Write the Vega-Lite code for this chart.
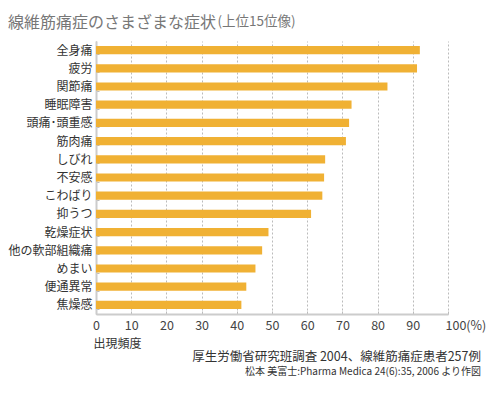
{
  "$schema": "https://vega.github.io/schema/vega-lite/v6.json",
  "background": "white",
  "padding": {"left": 7, "top": 14, "right": 5, "bottom": 5},
  "config": {"view": {"stroke": null}, "font": "Noto Sans CJK JP"},
  "title": {"text": "線維筋痛症のさまざまな症状", "anchor": "start", "frame": "bounds", "font": "Noto Sans CJK JP", "fontSize": 16, "fontWeight": "normal", "color": "#777777", "offset": -17},
  "vconcat": [
    {
      "width": 352,
      "height": 273,
      "title": {
        "text": "厚生労働省研究班調査 2004、線維筋痛症患者257例",
        "subtitle": "松本 美富士:Pharma Medica 24(6):35, 2006 より作図",
        "orient": "bottom",
        "anchor": "end",
        "frame": "group",
        "dx": 33,
        "font": "Noto Sans CJK JP",
        "fontSize": 12.5,
        "fontWeight": "normal",
        "color": "#333333",
        "subtitleFont": "Noto Sans CJK JP",
        "subtitleFontSize": 10,
        "subtitleColor": "#333333",
        "subtitlePadding": 4,
        "offset": 1
      },
      "data": {"values": [
        {"symptom": "全身痛", "pct": 92.0},
        {"symptom": "疲労", "pct": 91.2},
        {"symptom": "関節痛", "pct": 82.8},
        {"symptom": "睡眠障害", "pct": 72.6},
        {"symptom": "頭痛･頭重感", "pct": 71.9},
        {"symptom": "筋肉痛", "pct": 71.0},
        {"symptom": "しびれ", "pct": 65.1},
        {"symptom": "不安感", "pct": 64.8},
        {"symptom": "こわばり", "pct": 64.3},
        {"symptom": "抑うつ", "pct": 61.1},
        {"symptom": "乾燥症状", "pct": 49.0},
        {"symptom": "他の軟部組織痛", "pct": 47.2},
        {"symptom": "めまい", "pct": 45.3},
        {"symptom": "便通異常", "pct": 42.7},
        {"symptom": "焦燥感", "pct": 41.3}
      ]},
      "mark": {"type": "bar", "color": "#F0B134"},
      "encoding": {
        "y": {
          "field": "symptom", "type": "nominal", "sort": null,
          "scale": {"paddingInner": 0.55, "paddingOuter": 0.275},
          "axis": {
            "title": "(上位15位像)",
            "titleAngle": 0, "titleX": 121, "titleY": -20, "titleAlign": "left", "titleBaseline": "middle",
            "titleFontSize": 13.5, "titleFontWeight": "normal", "titleColor": "#777777", "titleFont": "Noto Sans CJK JP",
            "domainColor": "#cccccc", "domainWidth": 2,
            "ticks": true, "tickBand": "extent", "tickSize": -3, "tickColor": "#bbbbbb",
            "labelFontSize": 12, "labelColor": "#333333", "labelPadding": 7, "labelFont": "Noto Sans CJK JP",
            "grid": false
          }
        },
        "x": {
          "field": "pct", "type": "quantitative",
          "scale": {"domain": [0, 100]},
          "axis": {
            "title": "出現頻度",
            "titleAnchor": "start", "titleAlign": "left", "titleX": -3,
            "titleFontSize": 12, "titleFontWeight": "normal", "titleColor": "#333333", "titleFont": "Noto Sans CJK JP", "titlePadding": 7,
            "values": [0, 10, 20, 30, 40, 50, 60, 70, 80, 90, 100],
            "labelExpr": "datum.value == 100 ? '100(%)' : datum.label",
            "labelAlign": {"expr": "datum.value == 100 ? 'left' : 'center'"},
            "labelOffset": {"expr": "datum.value == 100 ? -3 : 0"},
            "labelFontSize": 12.5, "labelColor": "#444444", "labelPadding": 8, "labelFont": "Noto Sans CJK JP",
            "domainColor": "#cccccc", "domainWidth": 2,
            "tickSize": -3, "tickColor": "#bbbbbb",
            "grid": true, "gridDash": [2, 2], "gridColor": "#bbbbbb", "gridWidth": 1
          }
        }
      }
    }
  ]
}
